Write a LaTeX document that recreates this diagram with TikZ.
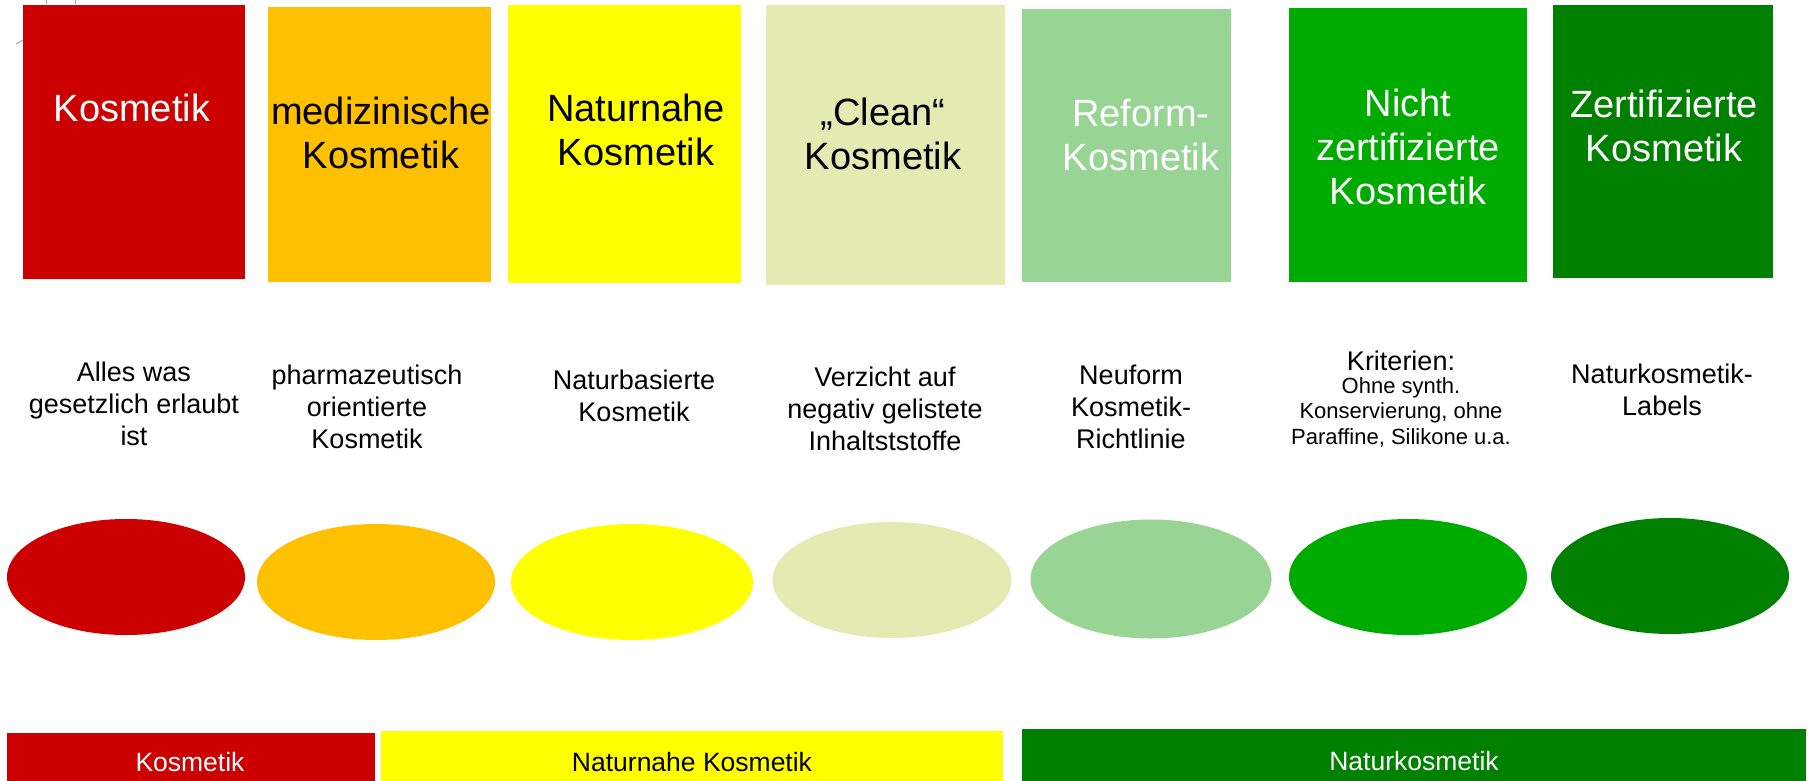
\documentclass[tikz,border=0pt]{standalone}
\usepackage{fontspec}
\setmainfont{Liberation Sans}
\usetikzlibrary{shapes.geometric}
\definecolor{cred}{HTML}{CC0000}
\definecolor{corange}{HTML}{FFC000}
\definecolor{cyellow}{HTML}{FFFF00}
\definecolor{cclean}{HTML}{E3EBB3}
\definecolor{creform}{HTML}{98D594}
\definecolor{cnicht}{HTML}{00AB00}
\definecolor{czert}{HTML}{008000}
\tikzset{
  box/.style={inner sep=0pt, outer sep=0pt},
  title/.style={align=center, inner sep=0pt, font=\fontsize{38}{44}\selectfont},
  desc/.style={align=center, inner sep=0pt, text=black, font=\fontsize{27}{32}\selectfont},
  small/.style={align=center, inner sep=0pt, text=black, font=\fontsize{22}{25.5}\selectfont},
  oval/.style={ellipse, inner sep=0pt, minimum width=238pt, minimum height=116pt},
  bar/.style={inner sep=0pt, font=\fontsize{26.5}{30}\selectfont},
  tinymark/.style={draw=gray!70, line width=1pt}
}
\begin{document}
\begin{tikzpicture}[x=1pt,y=-1pt]
\useasboundingbox (0,0) rectangle (1810,781);
% small marks top-left
\coordinate (m1a) at (46,0); \coordinate (m1b) at (46,4);
\coordinate (m2a) at (75,0); \coordinate (m2b) at (75,4);
\coordinate (m3a) at (16,44); \coordinate (m3b) at (23,40);
\draw[tinymark] (m1a) -- (m1b);
\draw[tinymark] (m2a) -- (m2b);
\draw[tinymark] (m3a) -- (m3b);
% top boxes
\fill[cred]    (23,5)    rectangle (245,279);
\fill[corange] (268,7)   rectangle (491,282);
\fill[cyellow] (508,5)   rectangle (741,283);
\fill[cclean]  (766,5)   rectangle (1005,285);
\fill[creform] (1022,9)  rectangle (1231,282);
\fill[cnicht]  (1289,8)  rectangle (1527,282);
\fill[czert]   (1553,5)  rectangle (1773,278);
% titles
\node[title, text=white] (t1) at (132,108) {Kosmetik};
\node[title, text=black] (t2) at (381,133) {medizinische\\Kosmetik};
\node[title, text=black] (t3) at (636,130) {Naturnahe\\Kosmetik};
\node[title, text=black] (t4) at (883,134) {„Clean“\\Kosmetik};
\node[title, text=white] (t5) at (1141,135) {Reform-\\Kosmetik};
\node[title, text=white] (t6) at (1408,147) {Nicht\\zertifizierte\\Kosmetik};
\node[title, text=white] (t7) at (1664,126) {Zertifizierte\\Kosmetik};
% descriptions
\node[desc] (d1) at (134,404) {Alles was\\gesetzlich erlaubt\\ist};
\node[desc] (d2) at (367,407) {pharmazeutisch\\orientierte\\Kosmetik};
\node[desc] (d3) at (634,396) {Naturbasierte\\Kosmetik};
\node[desc] (d4) at (885,409) {Verzicht auf\\negativ gelistete\\Inhaltststoffe};
\node[desc] (d5) at (1131,407) {Neuform\\Kosmetik-\\Richtlinie};
\node[desc] (d6) at (1401,361) {Kriterien:};
\node[small] (d6b) at (1401,412) {Ohne synth.\\Konservierung, ohne\\Paraffine, Silikone u.a.};
\node[desc] (d7) at (1662,390) {Naturkosmetik-\\Labels};
% ellipses
\node[oval, fill=cred]    (e1) at (126,577) {};
\node[oval, fill=corange] (e2) at (376,582) {};
\node[oval, fill=cyellow, minimum width=242pt] (e3) at (632,582) {};
\node[oval, fill=cclean, minimum width=239pt]  (e4) at (892,580) {};
\node[oval, fill=creform, minimum width=241pt, minimum height=119pt] (e5) at (1151,579) {};
\node[oval, fill=cnicht]  (e6) at (1408,577) {};
\node[oval, fill=czert]   (e7) at (1670,576) {};
% bottom bars
\fill[cred]    (7,733)    rectangle (375,781);
\fill[cyellow] (381,731)  rectangle (1003,781);
\fill[czert]   (1022,729) rectangle (1806,781);
\node[bar, text=white] (b1) at (190,762) {Kosmetik};
\node[bar, text=black] (b2) at (692,762) {Naturnahe Kosmetik};
\node[bar, text=white] (b3) at (1414,761) {Naturkosmetik};
\end{tikzpicture}
\end{document}
